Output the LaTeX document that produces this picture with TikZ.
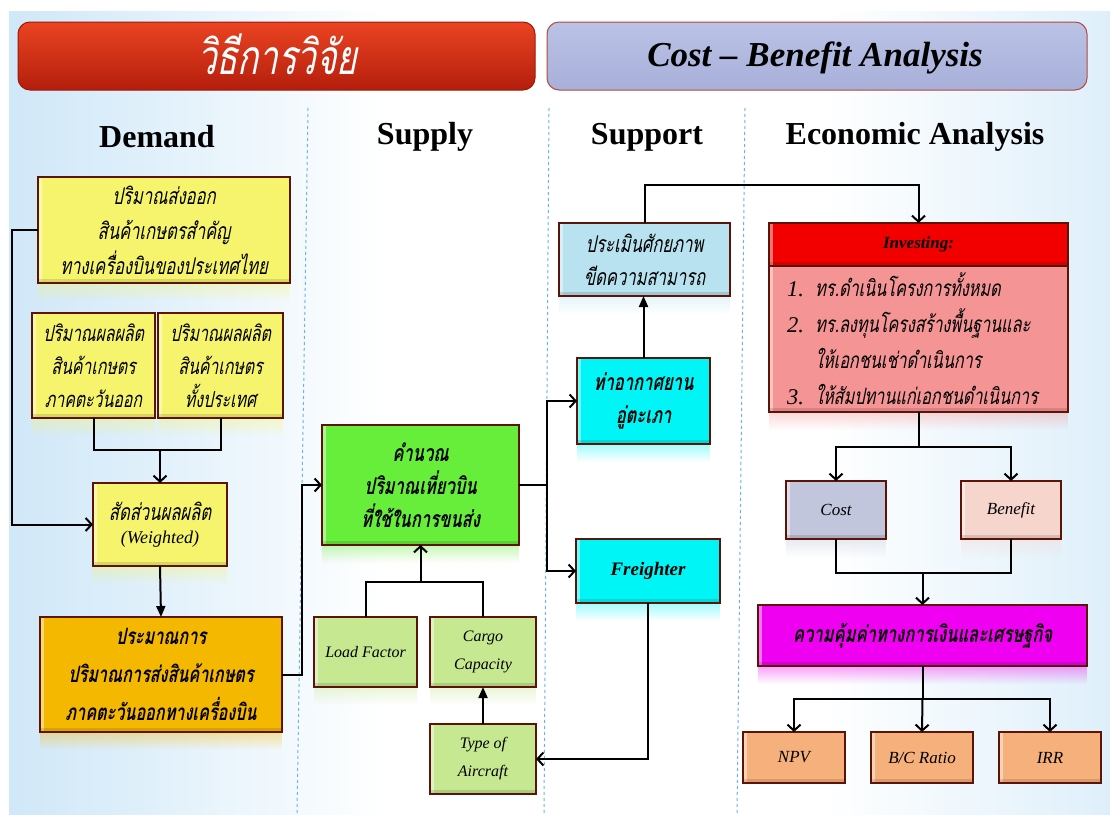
\documentclass[tikz,border=0pt]{standalone}
\usepackage{fontspec}
\setmainfont{Liberation Serif}
\newfontfamily\thaifont[Script=Thai,FakeSlant=0.2,FakeStretch=0.72]{Loma}
\usetikzlibrary{arrows.meta,calc,fadings}

\definecolor{bgblue}{HTML}{BCDCF4}
\definecolor{bgmid}{HTML}{DCEEFA}
\definecolor{redtop}{HTML}{EA4422}
\definecolor{redbot}{HTML}{B41E0C}
\definecolor{redline}{HTML}{9A1A0A}
\definecolor{purtop}{HTML}{BAC2E6}
\definecolor{purbot}{HTML}{A8B0DA}
\definecolor{purline}{HTML}{B04A3A}
\definecolor{edge}{HTML}{5C1408}
\definecolor{sepblue}{HTML}{6AB4EA}
\definecolor{cyellow}{HTML}{F6F46C}
\definecolor{camber}{HTML}{F5B800}
\definecolor{cgreen}{HTML}{66EE3A}
\definecolor{cpale}{HTML}{C6E890}
\definecolor{csky}{HTML}{B8E2F0}
\definecolor{ccyan}{HTML}{00F6F6}
\definecolor{cred}{HTML}{F20000}
\definecolor{cpink}{HTML}{F49494}
\definecolor{ccost}{HTML}{C2C6DC}
\definecolor{cbenefit}{HTML}{F6D6CC}
\definecolor{cmagenta}{HTML}{F000F0}
\definecolor{cpeach}{HTML}{F6B07C}

\pgfdeclarehorizontalshading{pagebg}{100bp}{color(0bp)=(bgblue); color(16bp)=(bgblue); color(30bp)=(bgmid); color(42bp)=(white); color(62bp)=(white); color(76bp)=(bgmid); color(90bp)=(bgblue); color(100bp)=(bgblue)}

\tikzset{
  banner/.style={rounded corners=12pt, line width=1pt, outer sep=0pt, inner sep=0pt},
  sep/.style={sepblue, line width=1pt, dash pattern=on 3pt off 3pt},
  hdr/.style={font=\fontsize{32}{36}\selectfont\bfseries},
  box/.style={draw=edge, line width=1.5pt, outer sep=0pt, inner sep=2pt,
    align=center, text=black,
    path picture={
      \fill[white,opacity=.45] (path picture bounding box.south west)
        rectangle ([xshift=4pt]path picture bounding box.north west);
      \fill[black,opacity=.12] (path picture bounding box.south west)
        rectangle ([yshift=4pt]path picture bounding box.south east);}},
  th/.style={font=\thaifont\fontsize{23}{35}\selectfont},
  thb/.style={font=\thaifont\bfseries\fontsize{23}{35}\selectfont},
  la/.style={font=\itshape\fontsize{16}{28}\selectfont},
  conn/.style={line width=2pt, black},
  opentip/.style={-{Straight Barb[length=6pt,width=13pt]}},
  filltip/.style={-{Triangle[length=11pt,width=9pt]}},
  mirror/.style={opacity=.35, path fading=south},
}
% faint reflection strip under a box
\newcommand\boxrefl[2]{\fill[#2, mirror] ([yshift=-1pt]#1.south west) rectangle ([yshift=-18pt]#1.south east);}

\begin{document}
\begin{tikzpicture}[x=1pt,y=-1pt]
\useasboundingbox (0,0) rectangle (1110,814);
% page background
\fill[white] (0,0) rectangle (1110,814);
\shade[shading=pagebg] (9,11) rectangle (1110,814);

% column separators
\draw[sep] (308,108) -- (297,814);
\draw[sep] (549,108) -- (544,814);
\draw[sep] (745,108) -- (737,814);

% title banners
\node[banner, top color=redtop, bottom color=redbot, draw=redline,
      minimum width=517, minimum height=68] (bnL) at (276.5,56) {};
\node[font=\thaifont\fontsize{48}{48}\selectfont, text=white] (bnLt) at (277,54) {วิธีการวิจัย};

\node[banner, top color=purtop, bottom color=purbot, draw=purline,
      minimum width=540, minimum height=68] (bnR) at (817,56) {};
\node[font=\fontsize{35}{37}\selectfont\bfseries\itshape, text=black] (bnRt) at (815,58) {Cost -- Benefit Analysis};

% column headings
\node[hdr] (hDem) at (157,137) {Demand};
\node[hdr] (hSup) at (425,137) {Supply};
\node[hdr] (hSpt) at (647,137) {Support};
\node[hdr] (hEco) at (915,137) {Economic Analysis};

% ---- Demand ----
\node[box, th, fill=cyellow, minimum width=252, minimum height=106] (A) at (164,230)
  {ปริมาณส่งออก\\สินค้าเกษตรสำคัญ\\ทางเครื่องบินของประเทศไทย};
\node[box, font=\thaifont\fontsize{22}{33}\selectfont, fill=cyellow, minimum width=123, minimum height=105] (B1) at (93.5,365.5)
  {ปริมาณผลผลิต\\สินค้าเกษตร\\ภาคตะวันออก};
\node[box, font=\thaifont\fontsize{22}{33}\selectfont, fill=cyellow, minimum width=125, minimum height=105] (B2) at (220.5,365.5)
  {ปริมาณผลผลิต\\สินค้าเกษตร\\ทั้งประเทศ};
\node[box, fill=cyellow, minimum width=134, minimum height=83] (C) at (160,524.5)
  {{\thaifont\fontsize{23}{34}\selectfont สัดส่วนผลผลิต}\\[10pt]{\itshape\fontsize{18}{20}\selectfont (Weighted)}};
\node[box, font=\thaifont\bfseries\fontsize{22.5}{38}\selectfont, fill=camber, minimum width=242, minimum height=115] (D) at (161,674.5)
  {ประมาณการ\\ปริมาณการส่งสินค้าเกษตร\\ภาคตะวันออกทางเครื่องบิน};

% ---- Supply ----
\node[box, font=\thaifont\bfseries\fontsize{23}{33}\selectfont, fill=cgreen, minimum width=197, minimum height=120] (E) at (420.5,485)
  {คำนวณ\\ปริมาณเที่ยวบิน\\ที่ใช้ในการขนส่ง};
\node[box, la, fill=cpale, minimum width=103, minimum height=70] (LF) at (365.5,652) {Load Factor};
\node[box, la, fill=cpale, minimum width=106, minimum height=70] (CC) at (483,652) {Cargo\\Capacity};
\node[box, la, fill=cpale, minimum width=106, minimum height=70] (TA) at (483,759) {Type of\\Aircraft};

% ---- Support ----
\node[box, font=\thaifont\fontsize{23}{33}\selectfont, fill=csky, minimum width=171, minimum height=73] (F) at (644.5,259.5)
  {ประเมินศักยภาพ\\ขีดความสามารถ};
\node[box, font=\thaifont\bfseries\fontsize{23}{33}\selectfont, fill=ccyan, minimum width=133, minimum height=86] (G) at (643.5,401)
  {ท่าอากาศยาน\\อู่ตะเภา};
\node[box, fill=ccyan, font=\fontsize{19}{22}\selectfont\bfseries\itshape, minimum width=144, minimum height=64] (H) at (648,571) {Freighter};

% ---- Economic analysis ----
\node[box, fill=cred, font=\fontsize{17}{20}\selectfont\bfseries\itshape, minimum width=299, minimum height=43] (INVh) at (918.5,244.5) {Investing:};
\node[box, fill=cpink, minimum width=299, minimum height=146, inner sep=0pt,
      text width=263pt, align=left, font=\thaifont\fontsize{22.5}{36}\selectfont] (INVb) at (918.5,339)
  {{\rmfamily\itshape 1.} ทร.ดำเนินโครงการทั้งหมด\\
   {\rmfamily\itshape 2.} ทร.ลงทุนโครงสร้างพื้นฐานและ\\
   \hphantom{\rmfamily\itshape 2. }ให้เอกชนเช่าดำเนินการ\\
   {\rmfamily\itshape 3.} ให้สัมปทานแก่เอกชนดำเนินการ};
\node[box, fill=ccost, font=\itshape\fontsize{17}{20}\selectfont, minimum width=100, minimum height=58] (Cost) at (836,510) {Cost};
\node[box, fill=cbenefit, font=\itshape\fontsize{17}{20}\selectfont, minimum width=100, minimum height=58] (Ben) at (1011,510) {Benefit};
\node[box, thb, fill=cmagenta, minimum width=329, minimum height=61] (M) at (922.5,635.5)
  {ความคุ้มค่าทางการเงินและเศรษฐกิจ};
\node[box, fill=cpeach, font=\itshape\fontsize{17}{20}\selectfont, minimum width=102, minimum height=51] (NPV) at (794,757.5) {NPV};
\node[box, fill=cpeach, font=\itshape\fontsize{17}{20}\selectfont, minimum width=102, minimum height=51] (BC) at (922,757.5) {B/C Ratio};
\node[box, fill=cpeach, font=\itshape\fontsize{17}{20}\selectfont, minimum width=102, minimum height=51] (IRR) at (1050,757.5) {IRR};

% reflections under the boxes
\boxrefl{A}{cyellow}
\boxrefl{B1}{cyellow}
\boxrefl{B2}{cyellow}
\boxrefl{C}{cyellow}
\boxrefl{D}{camber}
\boxrefl{E}{cgreen}
\boxrefl{LF}{cpale}
\boxrefl{CC}{cpale}
\boxrefl{F}{csky}
\boxrefl{G}{ccyan}
\boxrefl{H}{ccyan}
\boxrefl{INVb}{cpink}
\boxrefl{Cost}{ccost}
\boxrefl{Ben}{cbenefit}
\boxrefl{M}{cmagenta}

% ---- connectors ----
\coordinate (jB) at (160,450);
\coordinate (jS) at (420.5,582);
\coordinate (jE) at (547,485);
\coordinate (jI) at (918.5,447);
\coordinate (jC) at (922.5,573);
\coordinate (jM) at (922.5,699);

\draw[conn, opentip] (A.west) -- ++(-26,0) |- (C.west);
\draw[conn] (B1.south) |- (jB) -| (B2.south);
\draw[conn, opentip] (jB) -- (C.north);
\draw[conn, filltip] (C.south) -- (D.north);
\draw[conn, opentip] (D.east) -- ++(20,0) |- (E.west);

\draw[conn] (LF.north) |- (jS) -| (CC.north);
\draw[conn, opentip] (jS) -- (E.south);
\draw[conn, filltip] (TA.north) -- (CC.south);
\draw[conn, opentip] (H.south) |- (TA.east);

\draw[conn] (E.east) -- (jE);
\draw[conn, opentip] (jE) |- (G.west);
\draw[conn, opentip] (jE) |- (H.west);
\draw[conn, filltip] (G.north) -- (G.north |- F.south);
\draw[conn, opentip] (F.north) -- ++(0,-38) -| (INVh.north);

\draw[conn] (INVb.south) -- (jI);
\draw[conn, opentip] (jI) -| (Cost.north);
\draw[conn, opentip] (jI) -| (Ben.north);
\draw[conn] (Cost.south) |- (jC) -| (Ben.south);
\draw[conn, opentip] (jC) -- (M.north);
\draw[conn] (M.south) -- (jM);
\draw[conn, opentip] (jM) -| (NPV.north);
\draw[conn, opentip] (jM) -- (BC.north);
\draw[conn, opentip] (jM) -| (IRR.north);
\end{tikzpicture}
\end{document}
